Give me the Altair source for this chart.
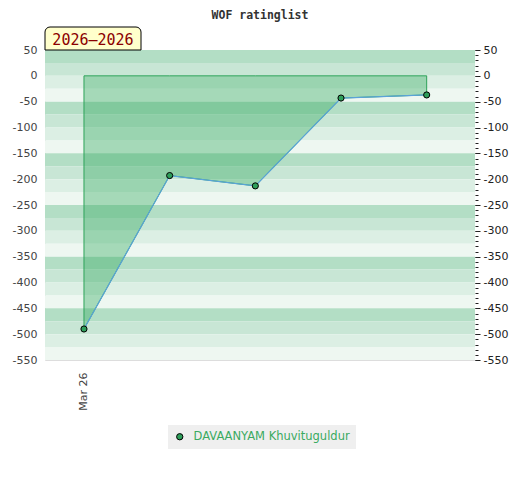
import altair as alt
import pandas as pd

# ---- data ----
player = "DAVAANYAM Khuvituguldur"
period_label = "2026–2026"
games = [0, 1, 2, 3, 4]
dates = ["Mar 26", "", "", "", ""]
ratings = [-490, -193, -213, -43, -37]

y_major = list(range(-550, 51, 50))
y_minor = list(range(-550, 51, 10))
band_tops = list(range(50, -550, -25))
band_palette = ["#b3dec5", "#c8e6d5", "#dcefe4", "#eef7f1"]

df = pd.DataFrame({"game": games, "date": dates, "rating": ratings, "player": [player] * len(games)})
bands_df = pd.DataFrame({
    "top": band_tops,
    "bottom": [t - 25 for t in band_tops],
    "color": [band_palette[i % 4] for i in range(len(band_tops))],
})
box_df = pd.DataFrame({"label": [period_label]})

W, H = 430, 310
yscale = alt.Scale(domain=[-550, 50], nice=False, zero=False)
xscale = alt.Scale(domain=[-0.455, 4.564], nice=False, zero=False)

x_axis = alt.Axis(
    values=[0], labelExpr=f"datum.value == 0 ? '{dates[0]}' : ''", title=None,
    labelAngle=-90, ticks=False, tickSize=0, labelPadding=12, grid=False,
    domainColor="#dddddd", labelColor="#444444", labelFont="DejaVu Sans", labelFontSize=11,
)

left_axis = alt.Axis(
    orient="left", values=y_major, title=None, ticks=False, tickSize=0, labelPadding=8,
    grid=False, domainColor="#dddddd", labelColor="#444444", labelFont="DejaVu Sans",
    labelFontSize=11, labelExpr="'' + datum.value",
)
right_axis = alt.Axis(
    orient="right", values=y_major, title=None, ticks=True, tickSize=5, tickColor="#222222",
    labelPadding=3, grid=False, domain=False, labelColor="#222222", labelFont="DejaVu Sans",
    labelFontSize=11, labelLimit=100, labelExpr="'' + datum.value",
)
minor_axis = alt.Axis(
    orient="right", values=y_minor, title=None, ticks=True, tickSize=3, tickColor="#222222",
    labels=False, grid=False, domain=False,
)

bands = alt.Chart(bands_df).mark_rect().encode(
    y=alt.Y("top:Q", scale=yscale, axis=left_axis),
    y2="bottom:Q",
    fill=alt.Color("color:N", scale=None),
)

area = alt.Chart(df).mark_area(
    fill="#30a85c", fillOpacity=0.38, stroke="#2ea35a", strokeWidth=1
).encode(
    x=alt.X("game:Q", scale=xscale, axis=x_axis),
    y=alt.Y("rating:Q", scale=yscale, axis=right_axis),
    y2=alt.datum(0),
)

line = alt.Chart(df).mark_line(color="#5ba3d9", strokeWidth=1.2).encode(
    x=alt.X("game:Q", scale=xscale, axis=x_axis),
    y=alt.Y("rating:Q", scale=yscale, axis=minor_axis),
)

points = alt.Chart(df).mark_point(
    filled=True, size=38, stroke="black", strokeWidth=1, opacity=1
).encode(
    x=alt.X("game:Q", scale=xscale, axis=x_axis),
    y=alt.Y("rating:Q", scale=yscale, axis=None),
    color=alt.Color(
        "player:N",
        scale=alt.Scale(range=["#2e9e5a"]),
        legend=alt.Legend(
            orient="none", legendX=123, legendY=375, title=None, fillColor="#efefef",
            padding=6, labelColor="#3aaa5f", labelFont="DejaVu Sans", labelFontSize=11.5,
            labelLimit=400, symbolType="circle", symbolSize=40, symbolStrokeColor="black",
            symbolStrokeWidth=1, labelOffset=8,
        ),
    ),
)

box = alt.Chart(box_df).mark_rect(
    fill="#ffffcc", stroke="black", strokeWidth=1,
    cornerRadiusTopLeft=5, cornerRadiusTopRight=5,
).encode(x=alt.value(0), x2=alt.value(96), y=alt.value(-23), y2=alt.value(0))

box_text = alt.Chart(box_df).mark_text(
    font="DejaVu Sans Mono", fontSize=15, color="#8b0000", align="center", baseline="middle"
).encode(x=alt.value(48), y=alt.value(-10), text="label:N")

chart = alt.layer(bands, area, line, points, box, box_text).resolve_axis(
    y="independent"
).properties(
    width=W, height=H,
    title=alt.TitleParams(
        "WOF ratinglist", font="DejaVu Sans Mono", fontWeight="bold", fontSize=11.5,
        color="#333333", anchor="middle", offset=5,
    ),
    autosize=alt.AutoSizeParams(type="none"),
    padding={"left": 37, "top": 42, "right": 37, "bottom": 110},
).configure_view(stroke=None)

chart.save("out.html", embed_options={"renderer": "svg", "actions": False})
